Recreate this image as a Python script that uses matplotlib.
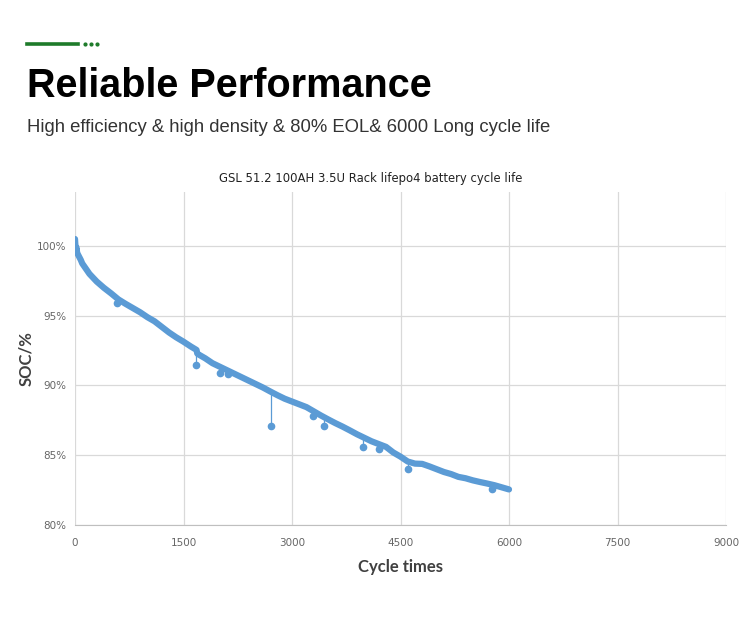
import matplotlib.pyplot as plt
from matplotlib.ticker import FuncFormatter

# main SOC curve
cycles = [0, 5, 10, 20, 30, 50, 80, 100, 200, 300, 400, 500, 600, 700, 800, 900,
          1000, 1100, 1200, 1300, 1400, 1500, 1600, 1680, 1690, 1700, 1800, 1900,
          2000, 2100, 2200, 2300, 2400, 2500, 2600, 2700, 2800, 2900, 3000, 3100,
          3200, 3300, 3400, 3500, 3600, 3700, 3800, 3900, 4000, 4100, 4200, 4300,
          4400, 4500, 4600, 4700, 4800, 4900, 5000, 5100, 5200, 5300, 5400, 5500,
          5600, 5700, 5800, 5900, 6000]
soc = [100.5, 100.1, 99.6, 99.9, 99.5, 99.3, 99.0, 98.75, 98.0, 97.45, 97.0, 96.6,
       96.17, 95.85, 95.55, 95.25, 94.9, 94.6, 94.2, 93.8, 93.45, 93.14, 92.8,
       92.55, 92.3, 92.25, 91.95, 91.6, 91.35, 91.1, 90.85, 90.6, 90.35, 90.1,
       89.85, 89.57, 89.3, 89.05, 88.85, 88.65, 88.45, 88.15, 87.85, 87.57, 87.3,
       87.05, 86.78, 86.5, 86.25, 86.0, 85.8, 85.6, 85.2, 84.9, 84.55, 84.4,
       84.38, 84.2, 84.0, 83.8, 83.65, 83.45, 83.35, 83.2, 83.08, 82.97, 82.85,
       82.7, 82.55]

# single low readings (cycle, value on curve, low value)
dip_cycles = [580, 1675, 2006, 2122, 2708, 3297, 3436, 3976, 4200, 4604, 5767]
dip_base = [96.2, 92.5, 91.35, 91.05, 89.55, 88.15, 87.75, 86.3, 85.8, 84.55, 82.9]
dip_low = [95.9, 91.48, 90.89, 90.81, 87.07, 87.84, 87.11, 85.6, 85.45, 84.05, 82.55]

x_ticks = [0, 1500, 3000, 4500, 6000, 7500, 9000]
y_ticks = [80, 85, 90, 95, 100]

blue = "#5b9bd5"

fig = plt.figure(figsize=(7.5, 6.21), dpi=100)

# header
fig.add_artist(plt.Line2D([27/750, 78/750], [1-44/621, 1-44/621], color="#1e7b2a", lw=2.6))
for px in [85, 91, 97]:
    fig.add_artist(plt.Line2D([px/750], [1-44/621], marker="o", ms=2, color="#1e7b2a", lw=0))
fig.text(27/750, 1-86/621, "Reliable Performance", fontsize=28.5, fontweight="bold",
         family="Liberation Sans", va="center", ha="left", color="black")
fig.text(27/750, 1-128/621, "High efficiency & high density & 80% EOL& 6000 Long cycle life",
         fontsize=13.3, family="Liberation Sans", va="center", ha="left", color="#333333")
fig.text(371/750, 1-179/621, "GSL 51.2 100AH 3.5U Rack lifepo4 battery cycle life",
         fontsize=8.4, color="#222222", ha="center", va="center")

ax = fig.add_axes([75/750, 1-525/621, 651/750, 333/621])
ax.plot(cycles, soc, color=blue, lw=4.5, solid_capstyle="round", solid_joinstyle="round", zorder=3)
for c, b, l in zip(dip_cycles, dip_base, dip_low):
    ax.plot([c, c], [b, l], color=blue, lw=0.9, marker="o", ms=4.5, markevery=[1], zorder=3)

ax.set_xlim(0, 9000)
ax.set_ylim(80, 103.87)
ax.set_xticks(x_ticks)
ax.set_yticks(y_ticks)
ax.yaxis.set_major_formatter(FuncFormatter(lambda v, p: f"{int(v)}%"))
ax.tick_params(length=0, labelsize=7.5, labelcolor="#666666")
ax.tick_params(axis="x", pad=9)
ax.tick_params(axis="y", pad=6)
ax.grid(True, color="#d9d9d9", lw=0.9)
for s in ["top", "right", "left"]:
    ax.spines[s].set_visible(False)
ax.spines["bottom"].set_color("#bfbfbf")

ax.set_xlabel("Cycle times", fontsize=12, fontweight="bold", family="Lato", color="#404040", labelpad=8)
ax.set_ylabel("SOC/%", fontsize=12, fontweight="bold", family="Lato", color="#404040", labelpad=2)

fig.savefig("out.png", dpi=100)
